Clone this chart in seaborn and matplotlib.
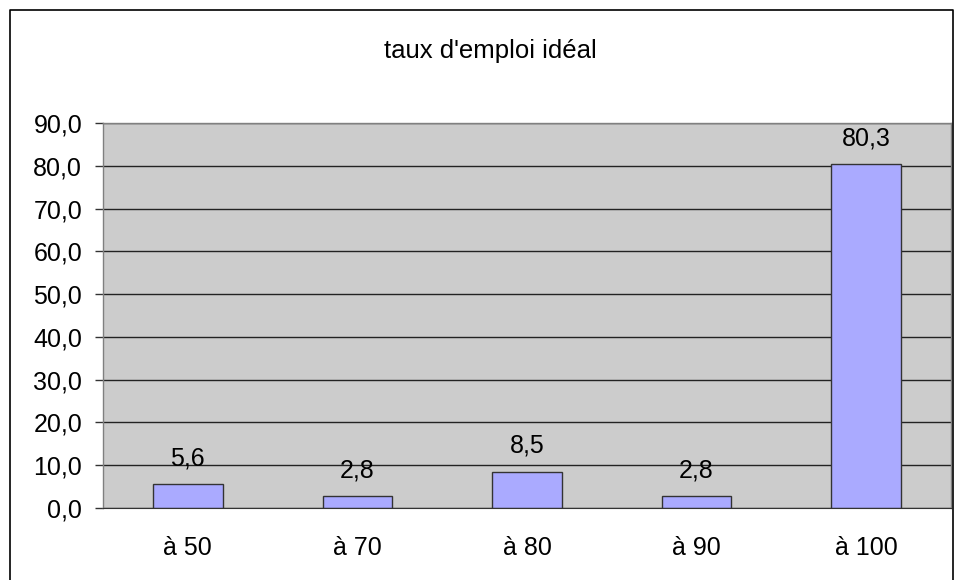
import matplotlib.pyplot as plt
import seaborn as sns
import pandas as pd
from matplotlib.lines import Line2D

# data
categories = ['à 50', 'à 70', 'à 80', 'à 90', 'à 100']
values = [5.6, 2.8, 8.5, 2.8, 80.3]
yticks = [0, 10, 20, 30, 40, 50, 60, 70, 80, 90]

df = pd.DataFrame({'cat': categories, 'val': values})

sns.set_style('white')
plt.rcParams['font.family'] = ['Liberation Sans', 'DejaVu Sans']
plt.rcParams['text.color'] = 'black'
plt.rcParams['xtick.color'] = 'black'
plt.rcParams['ytick.color'] = 'black'

fig = plt.figure(figsize=(9.55, 5.8), dpi=100)
ax = fig.add_axes([103 / 955, 1 - 508 / 580, 848 / 955, 385 / 580])

sns.barplot(data=df, x='cat', y='val', ax=ax, color='#AAAAFF', width=0.41,
            edgecolor='#333333', linewidth=1, saturation=1)

ax.set_facecolor('#CCCCCC')
ax.set_xlim(-0.5, len(categories) - 0.5)
ax.set_ylim(0, 90)
ax.set_yticks(yticks)
ax.set_yticklabels([f'{v:.1f}'.replace('.', ',') for v in yticks], fontsize=18)
ax.yaxis.grid(True, color='#222222', linewidth=1)
ax.set_axisbelow(True)

# x ticks at category boundaries, labels centered
ax.set_xticks([i + 0.5 for i in range(-1, len(categories))], minor=False)
ax.set_xticklabels([''] * (len(categories) + 1))
ax.set_xticks(range(len(categories)), minor=True)
ax.set_xticklabels(categories, minor=True, fontsize=18)
ax.tick_params(axis='x', which='major', direction='out', length=6, width=1, color='#333333')
ax.tick_params(axis='x', which='minor', length=0, pad=20)
ax.tick_params(axis='y', direction='out', length=6, width=1, color='#333333', left=True, pad=9)

for side in ['top', 'right', 'left']:
    ax.spines[side].set_color('#808080')
    ax.spines[side].set_linewidth(1)
ax.spines['bottom'].set_color('#333333')

ax.set_xlabel('')
ax.set_ylabel('')

for i, v in enumerate(values):
    ax.annotate(f'{v:.1f}'.replace('.', ','), (i, v), xytext=(0, 10),
                textcoords='offset points', ha='center', va='bottom', fontsize=18)

fig.text(490 / 955, 1 - 51 / 580, "taux d'emploi idéal", ha='center', va='center', fontsize=18.5)

# outer chart border
x0, x1 = 10 / 955, 953 / 955
y0, y1 = 0, 1 - 10 / 580
fig.add_artist(Line2D([x0, x0, x1, x1], [y0, y1, y1, y0], color='black', linewidth=1.2))

fig.savefig('out.png', dpi=100)
